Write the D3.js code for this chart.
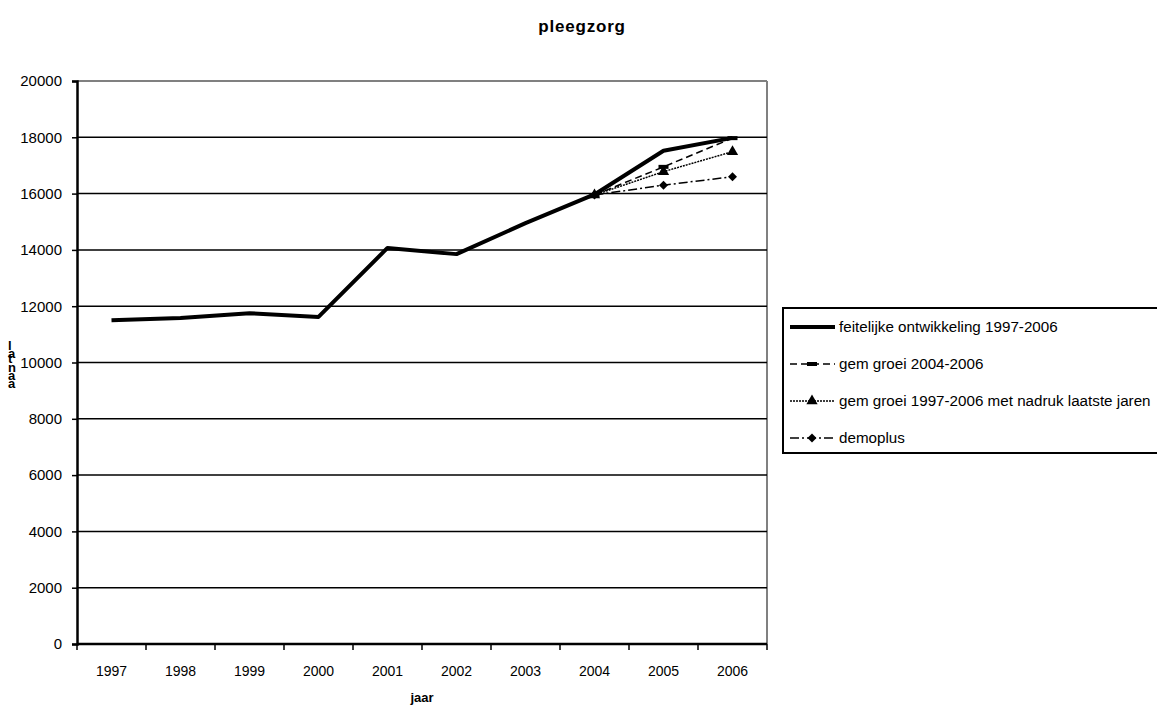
<!DOCTYPE html>
<html>
<head>
<meta charset="utf-8">
<script src="https://cdn.jsdelivr.net/npm/d3@7"></script>
<style>
  body { margin: 0; background: #fff; }
  text { font-family: "Liberation Sans", Arial, sans-serif; }
</style>
</head>
<body>
<div id="chart"></div>
<script>
// chart data
const years = ["1997","1998","1999","2000","2001","2002","2003","2004","2005","2006"];
const actual = [11500, 11580, 11750, 11620, 14070, 13850, 14950, 15970, 17520, 17980];
const projYears = ["2004","2005","2006"];
const groei0406 = [15950, 16950, 17970];
const groei9706 = [15950, 16780, 17490];
const demoplus = [15950, 16300, 16600];
const yTicks = [0,2000,4000,6000,8000,10000,12000,14000,16000,18000,20000];

const W = 1157, H = 707;
const plot = {left: 77, right: 767, top: 81, bottom: 644};

const svg = d3.select("#chart").append("svg")
  .attr("width", W).attr("height", H);

const x = d3.scaleBand().domain(years).range([plot.left, plot.right]);
const y = d3.scaleLinear().domain([0, 20000]).range([plot.bottom, plot.top]);
const cx = d => x(d) + x.bandwidth() / 2;

// title
svg.append("text").attr("x", 582).attr("y", 32)
  .attr("text-anchor", "middle").attr("font-size", 17).attr("font-weight", "bold")
  .attr("letter-spacing", 0.8)
  .text("pleegzorg");

// plot frame right / top (grey)
svg.append("line").attr("x1", plot.left).attr("x2", plot.right)
  .attr("y1", plot.top).attr("y2", plot.top).attr("stroke", "#808080").attr("stroke-width", 2);
svg.append("line").attr("x1", plot.right).attr("x2", plot.right)
  .attr("y1", plot.top).attr("y2", plot.bottom).attr("stroke", "#808080").attr("stroke-width", 2);

// gridlines
svg.append("g").selectAll("line").data(yTicks.filter(d => d > 0 && d < 20000)).join("line")
  .attr("x1", plot.left).attr("x2", plot.right)
  .attr("y1", d => y(d)).attr("y2", d => y(d))
  .attr("stroke", "#000").attr("stroke-width", 1.5);

// y axis
const yAxis = svg.append("g").attr("transform", `translate(${plot.left},0)`)
  .call(d3.axisLeft(y).tickValues(yTicks).tickSize(5).tickPadding(10).tickFormat(d3.format("d")));
yAxis.select(".domain").attr("stroke-width", 2.5);
yAxis.selectAll("line").attr("stroke-width", 1.5);
yAxis.selectAll("text").attr("font-size", 15).attr("font-family", "Liberation Sans, Arial, sans-serif").attr("fill", "#000");

// x axis: ticks on band boundaries
const xAxis = svg.append("g").attr("transform", `translate(0,${plot.bottom})`);
xAxis.append("line").attr("x1", plot.left).attr("x2", plot.right)
  .attr("stroke", "#000").attr("stroke-width", 2.5);
const bounds = years.map(d => x(d)).concat([plot.right]);
xAxis.selectAll(".tk").data(bounds).join("line").attr("class", "tk")
  .attr("x1", d => d).attr("x2", d => d).attr("y1", 0).attr("y2", 6)
  .attr("stroke", "#000").attr("stroke-width", 1.5);
xAxis.selectAll(".lbl").data(years).join("text").attr("class", "lbl")
  .attr("x", d => cx(d)).attr("y", 32).attr("text-anchor", "middle")
  .attr("font-size", 14).text(d => d);

// axis titles
svg.append("text").attr("x", 422).attr("y", 702).attr("text-anchor", "middle")
  .attr("font-size", 13).attr("font-weight", "bold").text("jaar");
// y title: upright letters stacked from bottom to top
svg.append("text").attr("transform", "translate(8,388) rotate(-90)")
  .attr("font-size", 13).attr("font-weight", "bold").attr("letter-spacing", 0.8)
  .attr("rotate", 90)
  .text("aantal");

// lines
const line = d3.line().x(d => cx(d[0])).y(d => y(d[1]));
const series = [
  {name: "gem groei 2004-2006", vals: groei0406, dash: "7,4", w: 1.5, marker: "dash"},
  {name: "gem groei 1997-2006 met nadruk laatste jaren", vals: groei9706, dash: "2,1", w: 1.5, marker: "tri"},
  {name: "demoplus", vals: demoplus, dash: "9,3,2,3", w: 1.5, marker: "dia"}
];

function drawMarker(g, type, px, py) {
  if (type === "dash") {
    g.append("rect").attr("x", px - 5).attr("y", py - 2).attr("width", 10).attr("height", 4).attr("fill", "#000");
  } else if (type === "tri") {
    g.append("path").attr("d", d3.symbol(d3.symbolTriangle, 55)()).attr("transform", `translate(${px},${py})`).attr("fill", "#000");
  } else if (type === "dia") {
    g.append("path").attr("d", d3.symbol(d3.symbolSquare, 40)()).attr("transform", `translate(${px},${py}) rotate(45)`).attr("fill", "#000");
  }
}

const sg = svg.append("g");
series.forEach(s => {
  const pts = projYears.map((yr, i) => [yr, s.vals[i]]);
  sg.append("path").datum(pts).attr("d", line).attr("fill", "none")
    .attr("stroke", "#000").attr("stroke-width", s.w).attr("stroke-dasharray", s.dash);
  pts.forEach(p => drawMarker(sg, s.marker, cx(p[0]), y(p[1])));
});

svg.append("path").datum(years.map((yr, i) => [yr, actual[i]])).attr("d", line)
  .attr("fill", "none").attr("stroke", "#000").attr("stroke-width", 4).attr("stroke-linejoin", "round");

// legend
const lg = svg.append("g");
lg.append("rect").attr("x", 783).attr("y", 308).attr("width", 380).attr("height", 145)
  .attr("fill", "#fff").attr("stroke", "#000").attr("stroke-width", 2);
const legendItems = [
  {name: "feitelijke ontwikkeling 1997-2006", dash: null, w: 4, marker: null}
].concat(series);
legendItems.forEach((s, i) => {
  const ly = 327 + i * 37;
  lg.append("line").attr("x1", 790).attr("x2", 835).attr("y1", ly).attr("y2", ly)
    .attr("stroke", "#000").attr("stroke-width", s.w).attr("stroke-dasharray", s.dash);
  if (s.marker) drawMarker(lg, s.marker, 812, ly);
  lg.append("text").attr("x", 839).attr("y", ly + 5).attr("font-size", 15.2).text(s.name);
});
</script>
</body>
</html>
